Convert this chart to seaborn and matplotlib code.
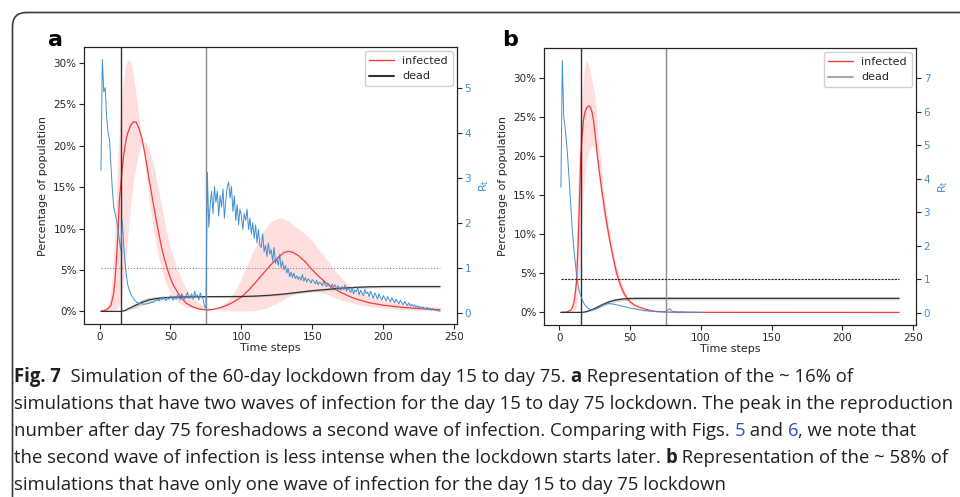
import numpy as np
import pandas as pd
import seaborn as sns
import matplotlib.pyplot as plt
from matplotlib import font_manager
from matplotlib.lines import Line2D
from matplotlib.patches import FancyBboxPatch
from matplotlib.ticker import PercentFormatter
from matplotlib.transforms import IdentityTransform

# lockdown window and Rt threshold
lockdown_start = 15
lockdown_end = 75
rt_threshold = 1
last_step = 240

# ---- panel a : two waves ----
inf_a_x = [1, 5, 8, 10, 11, 12, 13, 14, 15, 16, 17, 18, 19, 20, 22, 24, 26, 28, 30, 32, 34, 36, 38, 40, 42, 44,
           46, 48, 50, 52, 55, 58, 61, 65, 70, 76, 80, 85, 90, 95, 100, 105, 110, 115, 120, 125, 130, 133, 136,
           140, 145, 150, 155, 160, 165, 170, 175, 180, 190, 200, 210, 220, 230, 240]
inf_a = [0, 0.2, 0.7, 2.2, 4.0, 6.5, 9.5, 13.5, 15.3, 17.2, 18.8, 20.0, 20.9, 21.6, 22.5, 22.9, 22.8, 22.0, 20.8,
         19.0, 16.9, 14.9, 12.9, 11.0, 9.2, 7.5, 6.2, 5.0, 4.0, 3.2, 2.3, 1.6, 1.0, 0.6, 0.3, 0.16, 0.25, 0.45,
         0.75, 1.2, 1.75, 2.55, 3.5, 4.5, 5.5, 6.4, 7.1, 7.25, 7.15, 6.75, 6.0, 5.0, 4.15, 3.4, 2.8, 2.3, 1.9,
         1.55, 1.05, 0.75, 0.55, 0.4, 0.3, 0.2]
band_a_x = [1, 5, 7, 8, 9, 10, 11, 12, 13, 14, 15, 16, 17, 18, 19, 20, 21, 22, 23, 24, 26, 28, 30, 32, 34, 36,
            38, 40, 42, 44, 46, 48, 50, 52, 55, 58, 61, 65, 70, 76, 80, 85, 90, 95, 100, 105, 110, 115, 120, 124,
            127, 130, 135, 140, 146, 150, 155, 160, 165, 170, 175, 181, 190, 200, 210, 220, 230, 240]
band_a_early = [0.1, 0.5, 1.3, 2.5, 4.3, 7, 10.5, 15, 18.8, 22, 24.5, 26.5, 28.1, 29.3, 30.0, 30.35, 30.4, 30.1,
                29.4, 28.4, 25.9, 23.2, 20.4, 17.6, 14.9, 12.3, 10.0, 8.0, 6.3, 4.9, 3.8, 2.9, 2.2, 1.7, 1.15,
                0.8, 0.55, 0.35, 0.22, 0.15, 0.3, 0.6, 1.2, 2.3, 4.0, 6.0, 7.9, 9.6, 10.7, 11.15, 11.3, 11.2,
                10.7, 10.0, 9.2, 8.5, 7.4, 6.3, 5.1, 4.1, 3.3, 2.5, 1.8, 1.3, 1.0, 0.75, 0.6, 0.5]
band_a_late = [0, 0, 0, 0, 0.05, 0.1, 0.2, 0.3, 0.5, 0.8, 1.3, 2.5, 3.8, 5.5, 7.3, 9.2, 11, 12.8, 14.4, 15.8,
               17.9, 19.3, 20.2, 20.5, 20.1, 19.1, 17.7, 16.0, 14.2, 12.4, 10.7, 9.1, 7.7, 6.5, 5.0, 3.8, 2.8,
               1.8, 1.0, 0.5, 0.3, 0.1, 0.06, 0.05, 0.05, 0.05, 0.1, 0.3, 0.6, 0.9, 1.2, 1.5, 1.9, 2.2, 2.4,
               2.4, 2.3, 2.1, 1.7, 1.4, 1.15, 0.9, 0.6, 0.4, 0.3, 0.15, 0.1, 0.05]
dead_a_x = [1, 15, 18, 20, 25, 30, 35, 40, 45, 50, 60, 75, 100, 110, 120, 130, 140, 150, 160, 170, 180, 190, 200, 240]
dead_a = [0, 0, 0.1, 0.3, 0.7, 1.1, 1.4, 1.55, 1.65, 1.7, 1.75, 1.78, 1.8, 1.85, 1.95, 2.1, 2.3, 2.5, 2.65, 2.8,
          2.9, 2.97, 3.0, 3.0]
dead_a_lo = [0, 0, 0.05, 0.15, 0.4, 0.75, 1.1, 1.3, 1.45, 1.55, 1.63, 1.68, 1.7, 1.75, 1.85, 1.98, 2.16, 2.35,
             2.5, 2.65, 2.75, 2.82, 2.85, 2.85]
dead_a_hi = [0, 0, 0.15, 0.45, 1.0, 1.45, 1.7, 1.8, 1.85, 1.85, 1.87, 1.88, 1.9, 1.95, 2.05, 2.22, 2.44, 2.65,
             2.8, 2.95, 3.05, 3.12, 3.15, 3.15]
rt_a = [3.16, 5.62, 4.9, 5.0, 4.35, 4.0, 3.85, 3.3, 2.75, 2.35,
        2.2, 2.05, 1.85, 1.6, 1.38, 2.05, 1.5, 1.1, 0.8, 0.6,
        0.5, 0.42, 0.36, 0.31, 0.27, 0.24, 0.22, 0.21, 0.2, 0.2,
        0.19, 0.19, 0.2, 0.2, 0.21, 0.22, 0.24, 0.23, 0.26, 0.27,
        0.3, 0.26, 0.33, 0.29, 0.35, 0.3, 0.27, 0.34, 0.3, 0.38,
        0.32, 0.28, 0.36, 0.3, 0.4, 0.33, 0.29, 0.42, 0.35, 0.3,
        0.38, 0.45, 0.32, 0.36, 0.42, 0.3, 0.48, 0.35, 0.4, 0.28,
        0.44, 0.36, 0.3, 0.14, 0.1, 3.12, 1.9, 2.4, 2.7, 2.2,
        2.8, 2.45, 2.7, 2.15, 2.6, 2.35, 2.75, 2.1, 2.5, 2.8,
        2.9, 2.55, 2.8, 2.25, 2.6, 2.05, 2.4, 1.95, 2.3, 2.15,
        1.85, 2.2, 2.05, 2.3, 1.85, 2.1, 1.75, 2.0, 1.65, 1.95,
        1.55, 1.85, 1.5, 1.45, 1.75, 1.35, 1.5, 1.25, 1.55, 1.3,
        1.4, 1.15, 1.45, 1.1, 1.2, 1.05, 1.3, 1.0, 1.15, 0.95,
        1.05, 0.88, 0.98, 0.8, 0.9, 0.78, 0.88, 0.76, 0.82, 0.74,
        0.8, 0.72, 0.85, 0.7, 0.78, 0.68, 0.75, 0.72, 0.66, 0.74,
        0.7, 0.64, 0.72, 0.62, 0.68, 0.66, 0.6, 0.7, 0.62, 0.58,
        0.66, 0.6, 0.56, 0.64, 0.58, 0.62, 0.52, 0.6, 0.55, 0.5,
        0.58, 0.52, 0.62, 0.48, 0.55, 0.5, 0.45, 0.56, 0.42, 0.5,
        0.47, 0.55, 0.4, 0.5, 0.44, 0.38, 0.52, 0.42, 0.46, 0.36,
        0.48, 0.4, 0.32, 0.44, 0.38, 0.3, 0.42, 0.34, 0.28, 0.38,
        0.32, 0.26, 0.36, 0.3, 0.24, 0.33, 0.27, 0.22, 0.3, 0.24,
        0.2, 0.28, 0.22, 0.18, 0.25, 0.2, 0.16, 0.22, 0.15, 0.19,
        0.14, 0.18, 0.12, 0.16, 0.11, 0.14, 0.09, 0.13, 0.1, 0.08,
        0.12, 0.07, 0.1, 0.06, 0.09, 0.05, 0.07, 0.04, 0.05, 0.03]

# ---- panel b : one wave ----
inf_b_x = [1, 5, 8, 9, 10, 11, 12, 13, 14, 15, 16, 17, 18, 19, 20, 21, 22, 23, 24, 25, 26, 27, 28, 30, 32, 34,
           36, 38, 40, 42, 44, 46, 48, 50, 53, 56, 60, 64, 68, 75, 85, 100, 240]
inf_b = [0, 0.05, 0.3, 0.6, 1.1, 2.2, 3.9, 8.0, 13.5, 19.8, 22.6, 24.7, 25.6, 26.1, 26.35, 26.4, 26.2, 25.6,
         24.6, 23.0, 21.4, 19.7, 18.2, 15.5, 13.0, 10.8, 8.7, 7.0, 5.3, 4.0, 3.1, 2.3, 1.75, 1.35, 0.95, 0.7,
         0.45, 0.25, 0.13, 0.05, 0.02, 0.01, 0.0]
band_b_x = [1, 8, 9, 10, 11, 12, 13, 14, 15, 16, 17, 18, 19, 20, 21, 22, 23, 24, 25, 26, 27, 28, 30, 32, 34, 36,
            38, 40, 42, 44, 47, 51, 56, 60, 70, 80]
band_b_hi = [0, 0.3, 0.7, 1.5, 3.8, 9, 16.6, 21, 25, 28, 30.2, 31.6, 32.2, 32.0, 31.3, 30.5, 29.7, 28.8, 27.6,
             25.6, 23.4, 21.2, 17.8, 14.6, 12.0, 9.8, 7.8, 6.2, 4.9, 3.8, 2.4, 1.2, 0.5, 0.25, 0.08, 0.03]
band_b_lo = [0, 0, 0.05, 0.1, 0.3, 0.8, 2, 5, 9, 12.5, 15.5, 17.7, 19.2, 20.2, 20.8, 21.1, 21.25, 21.3, 21.0,
             19.8, 18.5, 17, 13.6, 11.5, 9.6, 7.8, 5.8, 4.5, 3.3, 2.4, 1.5, 0.8, 0.3, 0.15, 0.03, 0.01]
dead_b_x = [1, 15, 18, 20, 25, 30, 35, 40, 45, 50, 60, 75, 240]
dead_b = [0, 0, 0.05, 0.15, 0.5, 0.95, 1.35, 1.6, 1.72, 1.78, 1.8, 1.8, 1.8]
dead_b_lo = [0, 0, 0.02, 0.08, 0.3, 0.7, 1.1, 1.35, 1.5, 1.58, 1.6, 1.6, 1.6]
dead_b_hi = [0, 0, 0.1, 0.25, 0.75, 1.25, 1.6, 1.82, 1.92, 1.98, 2.0, 2.0, 2.0]
rt_b = [3.75, 7.53, 5.85, 5.5, 5.1, 4.5, 3.85, 3.2, 2.5, 2.0,
        1.55, 1.15, 0.85, 0.65, 0.5, 0.4, 0.3, 0.23, 0.18, 0.14,
        0.11, 0.09, 0.08, 0.09, 0.1, 0.12, 0.14, 0.16, 0.19, 0.21,
        0.23, 0.25, 0.26, 0.27, 0.27, 0.27, 0.26, 0.26, 0.25, 0.24,
        0.23, 0.22, 0.21, 0.2, 0.19, 0.18, 0.17, 0.16, 0.15, 0.14,
        0.13, 0.12, 0.12, 0.11, 0.1, 0.09, 0.09, 0.08, 0.07, 0.07,
        0.06, 0.06, 0.05, 0.05, 0.05, 0.04, 0.04, 0.04, 0.03, 0.03,
        0.03, 0.03, 0.03, 0.02, 0.03, 0.06, 0.1, 0.12, 0.07, 0.04,
        0.03, 0.04, 0.02, 0.03, 0.02, 0.03, 0.02, 0.02, 0.03, 0.01,
        0.02, 0.01, 0.02, 0.01, 0.01, 0.02, 0.01, 0.01, 0.01, 0.01]

caption = [
    [("Fig. 7", "bold", "ink"), ("  Simulation of the 60-day lockdown from day 15 to day 75. ", "normal", "ink"),
     ("a", "bold", "ink"), (" Representation of the ~ 16% of", "normal", "ink")],
    [("simulations that have two waves of infection for the day 15 to day 75 lockdown. The peak in the reproduction",
      "normal", "ink")],
    [("number after day 75 foreshadows a second wave of infection. Comparing with Figs. ", "normal", "ink"),
     ("5", "normal", "link"), (" and ", "normal", "ink"), ("6", "normal", "link"),
     (", we note that", "normal", "ink")],
    [("the second wave of infection is less intense when the lockdown starts later. ", "normal", "ink"),
     ("b", "bold", "ink"), (" Representation of the ~ 58% of", "normal", "ink")],
    [("simulations that have only one wave of infection for the day 15 to day 75 lockdown", "normal", "ink")],
]

RED = "#f23b3b"
BLUE = "#3f8fd2"

sns.set_theme(style="ticks", rc={"axes.linewidth": 0.8, "xtick.major.width": 0.8,
                                 "ytick.major.width": 0.8, "axes.edgecolor": "#222222"})
plt.rcParams["font.family"] = ["DejaVu Sans"]

fig = plt.figure(figsize=(9.6, 4.97), dpi=100)
fig.patch.set_facecolor("white")


def draw_panel(rect, letter, inf_x, inf, band_x, band_1, band_2, dead_x, dead, dead_lo, dead_hi,
               rt, hline_style, dead_legend_color):
    ax = fig.add_axes(rect)
    ax.fill_between(band_x, band_1, band_2, color="red", alpha=0.13, lw=0)
    sns.lineplot(x=inf_x, y=inf, ax=ax, color=RED, lw=0.9, legend=False)
    ax.fill_between(dead_x, dead_lo, dead_hi, color="gray", alpha=0.3, lw=0)
    sns.lineplot(x=dead_x, y=dead, ax=ax, color="#333333", lw=0.9, legend=False)
    ax.axvline(lockdown_start, color="#333333", lw=1)
    ax.axvline(lockdown_end, color="#8c8c8c", lw=1)
    ax.yaxis.set_major_formatter(PercentFormatter(xmax=100, decimals=0))
    ax.tick_params(labelsize=7.5, length=3.5, pad=2)
    ax.set_xlabel("Time steps", fontsize=8, labelpad=1)
    ax.set_ylabel("Percentage of population", fontsize=8)
    for s in ax.spines.values():
        s.set_visible(True)

    ax2 = ax.twinx()
    sns.lineplot(x=list(range(1, len(rt) + 1)), y=rt, ax=ax2, color=BLUE, lw=0.7, legend=False)
    ax2.hlines(rt_threshold, 1, last_step, colors=hline_style[0], linestyles=hline_style[1], lw=0.8)
    ax2.tick_params(labelsize=7.5, length=3.5, pad=2, labelcolor=BLUE)
    ax2.set_ylabel(r"$\mathregular{R_t}$", color=BLUE, fontsize=8)
    ax2.set_xlim(ax.get_xlim())

    handles = [Line2D([], [], color=RED, lw=1), Line2D([], [], color=dead_legend_color, lw=1.5)]
    ax2.legend(handles, ["infected", "dead"], loc="upper right", fontsize=8,
               handlelength=2.2, borderaxespad=0.4, framealpha=0.9, edgecolor="#cccccc")
    fig.text(letter[1], 1 - 46 / 497, letter[0], fontsize=16, fontweight="bold", color="black",
             va="baseline")
    return ax, ax2


draw_panel([84 / 960, 1 - 324 / 497, 373 / 960, 277 / 497], ("a", 48 / 960), inf_a_x, inf_a, band_a_x,
           band_a_early, band_a_late, dead_a_x, dead_a, dead_a_lo, dead_a_hi, rt_a, ("#888888", ":"), "#333333")
draw_panel([544 / 960, 1 - 325 / 497, 372 / 960, 277 / 497], ("b", 502 / 960), inf_b_x, inf_b, band_b_x,
           band_b_hi, band_b_lo, dead_b_x, dead_b, dead_b_lo, dead_b_hi, rt_b, ("#222222", (0, (2, 1))),
           "#aaaaaa")

# outer frame of the figure box
frame = FancyBboxPatch((12.5, -40), 1000, 497 - 12.5 + 40, boxstyle="round,pad=0,rounding_size=14",
                       transform=IdentityTransform(), fill=False, ec="#3a3a3a", lw=1.2)
fig.add_artist(frame)

# caption: humanist face, sized so the longest line spans the box like the original
names = {f.name for f in font_manager.fontManager.ttflist}
cap_font = "Open Sans" if "Open Sans" in names else "Roboto"
colors = {"ink": "#231f20", "link": "#2b50c8"}
renderer = fig.canvas.get_renderer()
probe = fig.text(0, 0, caption[1][0][0], fontsize=10, family=cap_font)
cap_size = min(10 * 940 / probe.get_window_extent(renderer).width, 13.5)
probe.remove()
for i, line in enumerate(caption):
    x = 14
    y = 497 - (382 + i * 27)
    for txt, weight, col in line:
        t = fig.text(x / 960, y / 497, txt, fontsize=cap_size, fontweight=weight, color=colors[col],
                     family=cap_font, va="baseline")
        x = t.get_window_extent(renderer).x1

fig.savefig("out.png", dpi=100)
